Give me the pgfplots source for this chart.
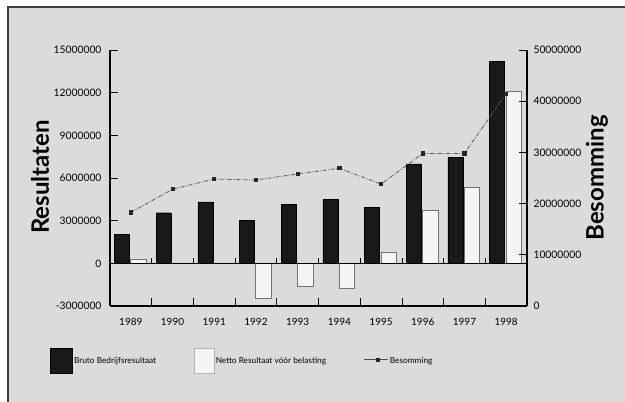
\documentclass[border=0pt]{standalone}
\usepackage{fontspec}
\setmainfont{Lato}
\usepackage{pgfplots}
\usepackage{pgfplotstable}
\pgfplotsset{compat=1.18}
\definecolor{bg}{gray}{0.86}
\definecolor{barblack}{gray}{0.1}
\definecolor{barwhite}{gray}{0.96}

\pgfplotstableread{
x bruto netto besom
0 2040000 300000 18300000
1 3560000 0 22800000
2 4330000 0 24800000
3 3040000 -2450000 24600000
4 4150000 -1600000 25800000
5 4500000 -1750000 26900000
6 3950000 770000 23800000
7 7000000 3700000 29800000
8 7450000 5350000 29800000
9 14200000 12100000 41500000
}\data

\begin{document}
\begin{tikzpicture}[x=1pt,y=1pt]
\useasboundingbox (0,0) rectangle (625,402);
\fill[white] (0,0) rectangle (625,402);
\fill[bg] (8,0) rectangle (625,395);
\draw[black!75, line width=1.2pt] (8,0) -- (8,395) -- (625,395);

\begin{axis}[
  at={(110pt,96pt)}, anchor=south west,
  scale only axis, width=417pt, height=256pt,
  xmin=-0.5, xmax=9.5, ymin=-3000000, ymax=15000000,
  scaled y ticks=false,
  axis y line*=left, axis x line*=bottom,
  axis line style={line width=1.1pt, black},
  tick align=inside,
  major tick length=8pt,
  tick style={black, line width=0.8pt},
  ytick={-3000000,0,3000000,6000000,9000000,12000000,15000000},
  yticklabels={-3000000,0,3000000,6000000,9000000,12000000,15000000},
  yticklabel style={font=\fontsize{10.3}{11}\selectfont, xshift=-5pt},
  xtick={0.5,1.5,...,8.5},
  xticklabels={},
  x tick style={line width=0.8pt},
  extra x ticks={0,1,2,3,4,5,6,7,8,9},
  extra x tick labels={1989,1990,1991,1992,1993,1994,1995,1996,1997,1998},
  extra x tick style={major tick length=0pt, xticklabel style={font=\fontsize{10}{11}\selectfont, yshift=-9pt}},
  clip=false,
  legend style={at={(axis description cs:-0.144,-0.215)}, anchor=west, draw=none, fill=none,
    inner sep=0pt, font=\fontsize{8.3}{9}\selectfont,
    nodes={inner sep=1.5pt},
    /tikz/every even column/.append style={column sep=36pt}},
  legend columns=3,
]
\addplot[fill=barblack, draw=black, ybar, bar width=15pt, bar shift=-9pt,
  legend image code/.code={\filldraw[fill=barblack,draw=black] (0pt,-12pt) rectangle (22pt,13pt);}]
  table[x=x,y=bruto]{\data};
\addlegendentry{Bruto Bedrijfsresultaat}
\addplot[fill=barwhite, draw=black!55, line width=0.6pt, ybar, bar width=15.5pt, bar shift=7.5pt,
  legend image code/.code={\filldraw[fill=barwhite,draw=black!30] (0pt,-12pt) rectangle (20pt,13pt);}]
  table[x=x,y=netto]{\data};
\addlegendentry{Netto Resultaat vóór belasting\hspace{28pt}}
\addlegendimage{black!70, line width=0.8pt,
  legend image code/.code={\draw[black!70, line width=0.8pt] (0pt,2pt) -- (24pt,2pt); \fill[black!85] (12.4pt,0.4pt) rectangle (15.6pt,3.6pt);}}
\addlegendentry{Besomming}
\draw[black, line width=1.1pt] (axis cs:-0.5,0) -- (axis cs:9.5,0);
\pgfplotsinvokeforeach{0.5,1.5,2.5,3.5,4.5,5.5,6.5,7.5,8.5}{
  \draw[black, line width=0.8pt] (axis cs:#1,0) -- ([yshift=5pt]axis cs:#1,0);
}
\end{axis}

\begin{axis}[
  at={(110pt,96pt)}, anchor=south west,
  scale only axis, width=417pt, height=256pt,
  xmin=-0.5, xmax=9.5, ymin=0, ymax=50000000,
  scaled y ticks=false,
  axis y line*=right, axis x line=none,
  axis line style={line width=1.1pt, black},
  tick align=inside,
  major tick length=8pt,
  tick style={black, line width=0.8pt},
  ytick={0,10000000,20000000,30000000,40000000,50000000},
  yticklabels={0,10000000,20000000,30000000,40000000,50000000},
  yticklabel style={font=\fontsize{10.3}{11}\selectfont, xshift=3pt},
  clip=false,
]
\addplot[black!65, line width=0.8pt, dash pattern=on 4pt off 1.5pt on 1pt off 1.5pt,
  mark=square*, mark size=1.6pt, mark options={solid, fill=black!85, draw=black!85}]
  table[x=x,y=besom]{\data};
\end{axis}

\node[rotate=90, font=\bfseries\fontsize{24}{24}\selectfont] at (40,225) {Resultaten};
\node[rotate=90, font=\bfseries\fontsize{24}{24}\selectfont] at (597,224) {Besomming};
\end{tikzpicture}
\end{document}
